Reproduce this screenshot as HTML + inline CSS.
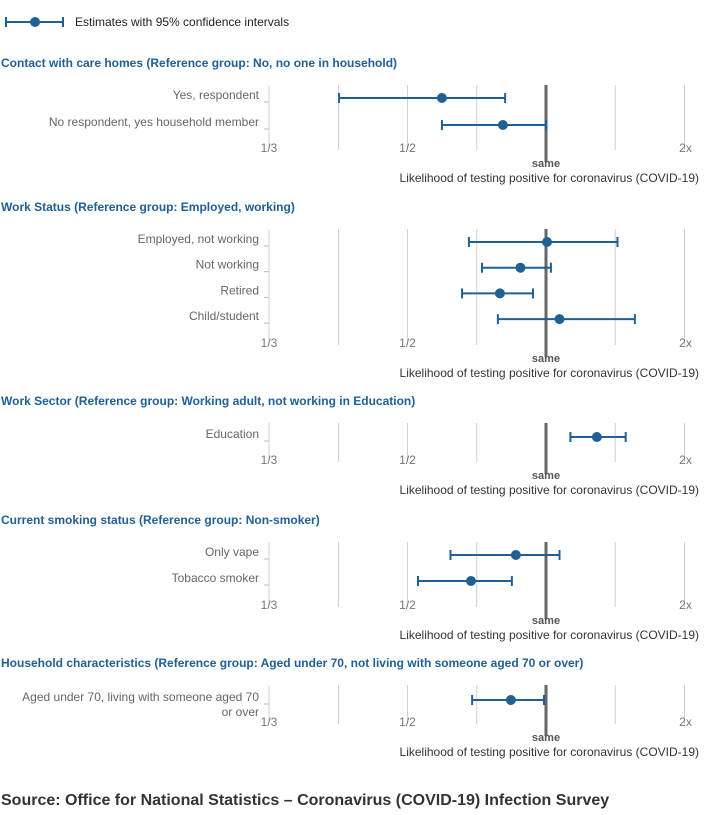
<!DOCTYPE html>
<html><head><meta charset="utf-8"><style>
body{margin:0;background:#fff;font-family:"Liberation Sans",sans-serif}
svg{display:block}
</style></head><body>
<svg id="c" width="708" height="815"></svg>
<script>
const sectionTitles=["Contact with care homes (Reference group: No, no one in household)","Work Status (Reference group: Employed, working)","Work Sector (Reference group: Working adult, not working in Education)","Current smoking status (Reference group: Non-smoker)","Household characteristics (Reference group: Aged under 70, not living with someone aged 70 or over)"];
const categories=[["Yes, respondent","No respondent, yes household member"],["Employed, not working","Not working","Retired","Child/student"],["Education"],["Only vape","Tobacco smoker"],["Aged under 70, living with someone aged 70|or over"]];
const estimates=[[0.594,0.806],[1.005,0.88,0.794,1.07],[1.29],[0.86,0.687],[0.839]];
const lower=[[0.355,0.594],[0.68,0.726,0.657,0.786],[1.13],[0.62,0.527],[0.691]];
const upper=[[0.815,1.0],[1.43,1.025,0.937,1.56],[1.49],[1.07,0.843],[0.99]];
const tickLabels=["1/3","1/2","2x"];
const tickValues=[0.25,0.5,2];
const gridValues=[0.25,0.354,0.5,0.707,1.414,2];
// layout
const sectionTop=[63,207,401,520,663];
const rowStart=[98,242,437,555,700];
const rowStep=[27,25.7,0,26,0];
const gridBottom=[150,345,462,607,724];
const x=v=>546+138.5*Math.log2(v);
const svg=document.getElementById('c');
const NS="http://www.w3.org/2000/svg";
function el(t,a,p){const e=document.createElementNS(NS,t);for(const k in a)e.setAttribute(k,a[k]);(p||svg).appendChild(e);return e;}
const blue="#206095";
// legend
let lg=el('g',{});


el('line',{x1:6,y1:22,x2:63,y2:22,stroke:blue,'stroke-width':2},lg);
el('line',{x1:6,y1:17,x2:6,y2:27,stroke:blue,'stroke-width':2},lg);
el('line',{x1:63,y1:17,x2:63,y2:27,stroke:blue,'stroke-width':2},lg);
el('circle',{cx:35,cy:22,r:5,fill:blue},lg);
el('text',{x:75,y:26,'font-size':12,fill:'#222'},lg).textContent="Estimates with 95% confidence intervals";
sectionTitles.forEach((t,s)=>{
  const g=el('g',{});
  
  
  const tt=el('text',{x:1,y:sectionTop[s]+4,'font-size':12,'font-weight':'bold',fill:blue},g);
  
  
  tt.textContent=t;
  const gt=sectionTop[s]+22, gb=gridBottom[s];
  gridValues.forEach(v=>{
    const l=el('line',{x1:x(v),x2:x(v),y1:gt,y2:gb,stroke:'#d0d0d0','stroke-width':1},g);
    
    
  });
  const ref=el('line',{x1:x(1),x2:x(1),y1:gt,y2:gb+12,stroke:'#666','stroke-width':3},g);
  
  
  tickValues.forEach((v,i)=>{
    const tx=el('text',{x:x(v)+(i==2?1:0),y:gb+2,'font-size':12,fill:'#777','text-anchor':'middle'},g);
    
    
    tx.textContent=tickLabels[i];
  });
  const sm=el('text',{x:x(1),y:gb+17,'font-size':11,'font-weight':'bold',fill:'#555','text-anchor':'middle'},g);
  
  
  sm.textContent="same";
  const at=el('text',{x:699,y:gb+32,'font-size':12,fill:'#333','text-anchor':'end'},g);
  
  
  at.textContent="Likelihood of testing positive for coronavirus (COVID-19)";
  categories[s].forEach((c,i)=>{
    const y=rowStart[s]+i*rowStep[s];
    const parts=c.split('|');
    parts.forEach((p,j)=>{
      const lt=el('text',{x:259,y:y+1+j*15,'font-size':12,fill:'#666','text-anchor':'end'},g);
      
      
      lt.textContent=p;
    });
    el('line',{x1:264,x2:269,y1:y+4,y2:y+4,stroke:'#bbb'},g);
    const r=el('g',{},g);
    
    
    const lo=x(lower[s][i]),hi=x(upper[s][i]);
    el('line',{x1:lo,x2:hi,y1:y,y2:y,stroke:blue,'stroke-width':2},r);
    el('line',{x1:lo,x2:lo,y1:y-5,y2:y+5,stroke:blue,'stroke-width':2},r);
    el('line',{x1:hi,x2:hi,y1:y-5,y2:y+5,stroke:blue,'stroke-width':2},r);
    el('circle',{cx:x(estimates[s][i]),cy:y,r:5,fill:blue},r);
  });
});
const src=el('text',{x:1,y:805,'font-size':16,'font-weight':'bold',fill:'#333'});


src.textContent="Source: Office for National Statistics – Coronavirus (COVID-19) Infection Survey";
</script>
</body></html>
